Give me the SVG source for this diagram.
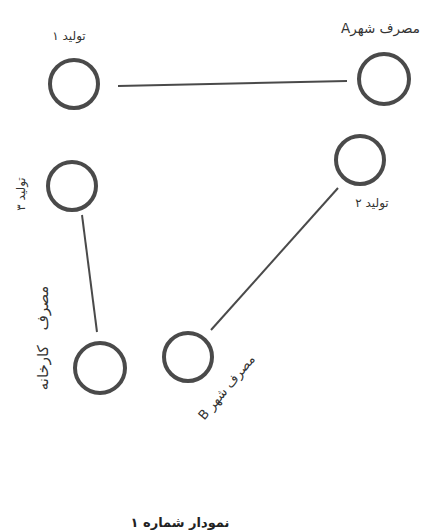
<svg xmlns="http://www.w3.org/2000/svg" width="422" height="531" viewBox="0 0 422 531">
<style>
.node{fill:none;stroke:#4a4a4a;stroke-width:4}
.edge{stroke:#4a4a4a;stroke-width:2;fill:none}
.lbl{font-family:"DejaVu Sans",sans-serif;font-size:12px;fill:#333;direction:rtl}
.title{font-family:"DejaVu Sans",sans-serif;font-size:13px;fill:#222;font-weight:bold;direction:rtl}
</style>
<rect width="422" height="531" fill="#ffffff"/>
<g id="connectors">
<line class="edge" x1="118" y1="86" x2="347" y2="81"/>
<line class="edge" x1="82" y1="215" x2="97" y2="332"/>
<line class="edge" x1="338" y1="188" x2="211" y2="330"/>
</g>
<g id="n-prod1">
<circle class="node" cx="74" cy="84" r="24"/>
<text class="lbl" x="69" y="40" text-anchor="middle">تولید ۱</text>
</g>
<g id="n-cityA">
<circle class="node" cx="384" cy="79" r="25"/>
<text class="lbl" x="420" y="33" text-anchor="start" style="font-size:13.5px">مصرف شهرA</text>
</g>
<g id="n-prod3">
<circle class="node" cx="72" cy="186" r="24"/>
<text class="lbl" transform="translate(25,194) rotate(-90)" text-anchor="middle">تولید ۳</text>
</g>
<g id="n-prod2">
<circle class="node" cx="360" cy="160" r="24"/>
<text class="lbl" x="372" y="207" text-anchor="middle">تولید ۲</text>
</g>
<g id="n-factory">
<circle class="node" cx="100" cy="368" r="25"/>
<text class="lbl" transform="translate(48,338) rotate(-90)" text-anchor="middle" style="font-size:15px;word-spacing:10px">مصرف کارخانه</text>
</g>
<g id="n-cityB">
<circle class="node" cx="188" cy="357" r="24"/>
<text class="lbl" transform="translate(230,390) rotate(-50)" text-anchor="middle" style="font-size:13px">مصرف شهر B</text>
</g>
<text class="title" x="180" y="527" text-anchor="middle">نمودار شماره ۱</text>
</svg>
